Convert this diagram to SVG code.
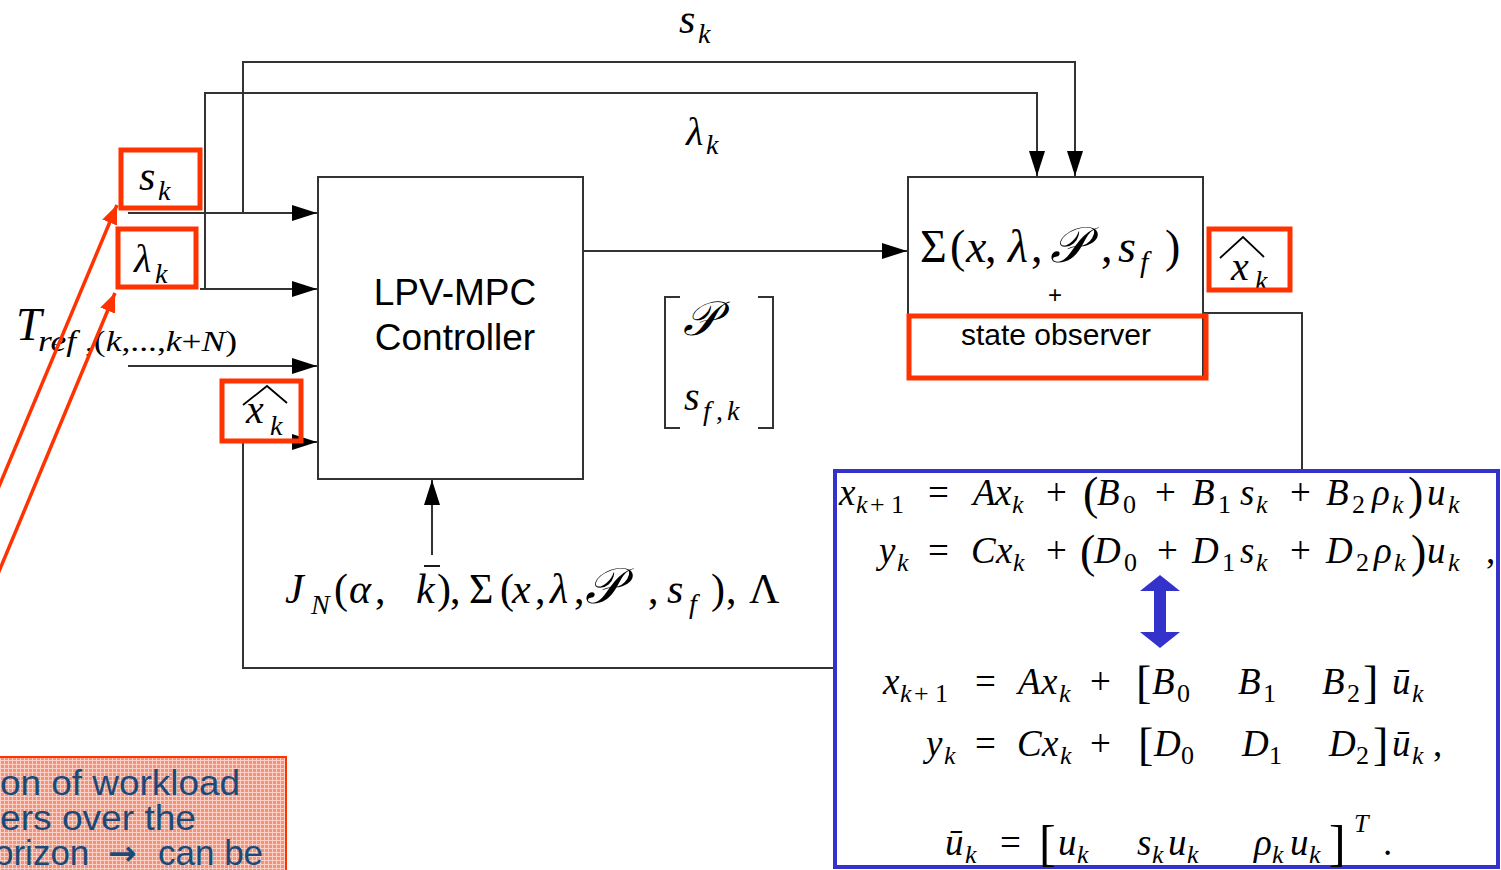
<svg xmlns="http://www.w3.org/2000/svg" width="1501" height="870" viewBox="0 0 1501 870">
<style>
.ln{stroke:#333;stroke-width:2;fill:none}
.box{stroke:#333;stroke-width:2;fill:#fff}
.red{stroke:#ff3300;stroke-width:5;fill:none}
.ra{stroke:#ff3300;stroke-width:3.5;fill:none}
.m{font-family:"Liberation Serif","DejaVu Serif",serif;fill:#000}
.i{font-style:italic}
.sans{font-family:"Liberation Sans",Arial,sans-serif;fill:#000}
.scr{font-family:"DejaVu Serif","DejaVu Sans","Noto Sans",serif;font-style:italic}
.eq{font-family:"Liberation Serif","DejaVu Serif",serif;font-size:37px;fill:#000}
.sb{font-size:26px}
.big{font-size:46px}
.note{font-family:"Liberation Sans",Arial,sans-serif;font-size:35px;fill:#1b4a78}
</style>
<defs>
<marker id="ah" markerUnits="userSpaceOnUse" markerWidth="26" markerHeight="16" refX="25" refY="8" orient="auto"><path d="M0,0 L25,8 L0,16 z" fill="#000"/></marker>
<marker id="rah" markerUnits="userSpaceOnUse" markerWidth="20" markerHeight="16" refX="19" refY="8" orient="auto"><path d="M0,0 L19,8 L0,16 z" fill="#ff3300"/></marker>
<pattern id="grid" patternUnits="userSpaceOnUse" width="4" height="4"><rect width="4" height="4" fill="#f4917a"/><rect width="4" height="1" fill="#fbd0c4"/><rect width="1" height="4" fill="#fbd0c4"/></pattern>
</defs>
<rect width="1501" height="870" fill="#fff"/>

<g id="connectors">
<polyline class="ln" points="243,213 243,62 1075,62 1075,176" marker-end="url(#ah)"/>
<polyline class="ln" points="205,289 205,93 1037,93 1037,176" marker-end="url(#ah)"/>
<line class="ln" x1="128" y1="213" x2="317" y2="213" marker-end="url(#ah)"/>
<line class="ln" x1="200" y1="289" x2="317" y2="289" marker-end="url(#ah)"/>
<line class="ln" x1="128" y1="366" x2="317" y2="366" marker-end="url(#ah)"/>
<polyline class="ln" points="1203,313 1302,313 1302,668 243,668 243,442 317,442" marker-end="url(#ah)"/>
<line class="ln" x1="583" y1="251" x2="907" y2="251" marker-end="url(#ah)"/>
<line class="ln" x1="432" y1="555" x2="432" y2="480" marker-end="url(#ah)"/>
</g>

<g id="controller">
<rect class="box" x="318" y="177" width="265" height="302"/>
<text class="sans" x="455" y="305" font-size="37" text-anchor="middle">LPV-MPC</text>
<text class="sans" x="455" y="350" font-size="37" text-anchor="middle">Controller</text>
</g>

<g id="plant">
<rect class="box" x="908" y="177" width="295" height="201"/>
<text class="m" y="262" font-size="46"><tspan x="920">Σ</tspan><tspan x="950">(</tspan><tspan class="i" x="966">x</tspan><tspan x="985">,</tspan><tspan class="i" x="1008">λ</tspan><tspan x="1031">,</tspan><tspan class="scr" x="1050" font-size="50">𝒫</tspan><tspan x="1101">,</tspan><tspan class="i" x="1118">s</tspan><tspan x="1165">)</tspan></text>
<text class="m i" x="1140" y="272" font-size="30">f</text>
<text class="sans" x="1055" y="303" font-size="24" text-anchor="middle">+</text>
<text class="sans" x="1056" y="345" font-size="30" text-anchor="middle">state observer</text>
</g>

<g id="matrix">
<polyline class="ln" points="680,297 665,297 665,428 680,428"/>
<polyline class="ln" points="758,297 773,297 773,428 758,428"/>
<text class="m scr" x="683" y="335" font-size="48">𝒫</text>
<text class="m i" x="684" y="410" font-size="40">s</text>
<text class="m" y="420" font-size="28"><tspan class="i" x="703">f</tspan><tspan x="716">,</tspan><tspan class="i" x="727">k</tspan></text>
</g>

<g id="labels">
<text class="m i" x="679" y="33" font-size="42">s</text>
<text class="m i" x="698" y="43" font-size="28">k</text>
<text class="m i" x="686" y="145" font-size="40">λ</text>
<text class="m i" x="706" y="154" font-size="28">k</text>

<text class="m i" x="139" y="190" font-size="42">s</text>
<text class="m i" x="158" y="200" font-size="28">k</text>
<text class="m i" x="134" y="272" font-size="40">λ</text>
<text class="m i" x="155" y="283" font-size="28">k</text>

<text class="m i" x="16" y="340" font-size="46">T</text>
<text class="m" x="38" y="351" font-size="30" textLength="199" lengthAdjust="spacingAndGlyphs"><tspan class="i">ref</tspan> ,(<tspan class="i">k</tspan>,...,<tspan class="i">k</tspan>+<tspan class="i">N</tspan>)</text>

<text class="m i" x="246" y="423" font-size="40">x</text>
<text class="m i" x="270" y="435" font-size="28">k</text>
<polyline points="243,405 267,386 287,403" fill="none" stroke="#000" stroke-width="1.8"/>

<text class="m i" x="1231" y="280" font-size="40">x</text>
<text class="m i" x="1255" y="290" font-size="28">k</text>
<polyline points="1220,258 1243,237 1264,257" fill="none" stroke="#000" stroke-width="1.8"/>

<text class="m" y="603" font-size="42"><tspan class="i" x="285">J</tspan><tspan x="334">(</tspan><tspan class="i" x="349">α</tspan><tspan x="375">,</tspan><tspan class="i" x="416">k</tspan><tspan x="437">)</tspan><tspan x="450">,</tspan><tspan x="469">Σ</tspan><tspan x="500">(</tspan><tspan class="i" x="512">x</tspan><tspan x="535">,</tspan><tspan class="i" x="550">λ</tspan><tspan x="574">,</tspan><tspan class="scr" x="585" font-size="50">𝒫</tspan><tspan x="648">,</tspan><tspan class="i" x="667">s</tspan><tspan x="711">)</tspan><tspan x="726">,</tspan><tspan x="749">Λ</tspan></text>
<text class="m i" x="311" y="614" font-size="28">N</text>
<text class="m i" x="689" y="613" font-size="28">f</text>
<line x1="424" y1="566" x2="440" y2="566" stroke="#000" stroke-width="1.8"/>
</g>

<g id="callouts">
<rect class="red" x="121" y="150" width="79" height="58"/>
<rect class="red" x="118" y="229" width="78" height="58"/>
<rect class="red" x="222" y="381" width="79" height="60"/>
<rect class="red" x="1209" y="229" width="81" height="61"/>
<rect class="red" x="909" y="316" width="297" height="62"/>
<line class="ra" x1="-5" y1="496" x2="117" y2="205" marker-end="url(#rah)"/>
<line class="ra" x1="-5" y1="581" x2="115" y2="293" marker-end="url(#rah)"/>
</g>

<g id="note">
<rect x="-3" y="757" width="289" height="116" fill="url(#grid)" stroke="#ff3300" stroke-width="2"/>
<text class="note" x="0" y="795" textLength="240" lengthAdjust="spacingAndGlyphs">on of workload</text>
<text class="note" x="0" y="830" textLength="196" lengthAdjust="spacingAndGlyphs">ers over the</text>
<text class="note" y="865"><tspan x="-6">orizon</tspan><tspan x="108" font-family="DejaVu Sans,sans-serif" font-weight="bold" font-size="34">→</tspan><tspan x="158">can be</tspan></text>
</g>

<g id="equations">
<rect x="835" y="471" width="663" height="396" fill="#fff" stroke="#3333cc" stroke-width="4"/>
<text class="eq" y="505"><tspan class="i" x="839">x</tspan><tspan x="928">=</tspan><tspan class="i" x="973">A</tspan><tspan class="i" x="995">x</tspan><tspan x="1046">+</tspan><tspan class="big" x="1083" y="509">(</tspan><tspan class="i" x="1097" y="505">B</tspan><tspan x="1155">+</tspan><tspan class="i" x="1192">B</tspan><tspan class="i" x="1240">s</tspan><tspan x="1290">+</tspan><tspan class="i" x="1326">B</tspan><tspan class="i" x="1372">ρ</tspan><tspan class="big" x="1408" y="509">)</tspan><tspan class="i" x="1427" y="505">u</tspan></text>
<text class="eq sb" y="513"><tspan class="i" x="856">k</tspan><tspan x="870">+</tspan><tspan x="891">1</tspan><tspan x="1012" class="i">k</tspan><tspan x="1123">0</tspan><tspan x="1218">1</tspan><tspan class="i" x="1256">k</tspan><tspan x="1352">2</tspan><tspan class="i" x="1392">k</tspan><tspan class="i" x="1448">k</tspan></text>

<text class="eq" y="563"><tspan class="i" x="879">y</tspan><tspan x="928">=</tspan><tspan class="i" x="971">C</tspan><tspan class="i" x="996">x</tspan><tspan x="1046">+</tspan><tspan class="big" x="1080" y="567">(</tspan><tspan class="i" x="1094" y="563">D</tspan><tspan x="1157">+</tspan><tspan class="i" x="1192">D</tspan><tspan class="i" x="1240">s</tspan><tspan x="1290">+</tspan><tspan class="i" x="1326">D</tspan><tspan class="i" x="1374">ρ</tspan><tspan class="big" x="1411" y="567">)</tspan><tspan class="i" x="1427" y="563">u</tspan><tspan x="1486">,</tspan></text>
<text class="eq sb" y="571"><tspan class="i" x="897">k</tspan><tspan class="i" x="1013">k</tspan><tspan x="1124">0</tspan><tspan x="1222">1</tspan><tspan class="i" x="1256">k</tspan><tspan x="1356">2</tspan><tspan class="i" x="1394">k</tspan><tspan class="i" x="1448">k</tspan></text>

<polygon points="1160,575 1180,591 1166,591 1166,632 1180,632 1160,648 1140,632 1154,632 1154,591 1140,591" fill="#3333cc"/>

<text class="eq" y="694"><tspan class="i" x="883">x</tspan><tspan x="975">=</tspan><tspan class="i" x="1018">A</tspan><tspan class="i" x="1041">x</tspan><tspan x="1090">+</tspan><tspan class="big" x="1136" y="698">[</tspan><tspan class="i" x="1152" y="694">B</tspan><tspan class="i" x="1238">B</tspan><tspan class="i" x="1322">B</tspan><tspan class="big" x="1363" y="698">]</tspan><tspan class="i" x="1392" y="694">ū</tspan></text>
<text class="eq sb" y="702"><tspan class="i" x="900">k</tspan><tspan x="914">+</tspan><tspan x="935">1</tspan><tspan class="i" x="1059">k</tspan><tspan x="1177">0</tspan><tspan x="1263">1</tspan><tspan x="1347">2</tspan><tspan class="i" x="1412">k</tspan></text>

<text class="eq" y="756"><tspan class="i" x="926">y</tspan><tspan x="975">=</tspan><tspan class="i" x="1017">C</tspan><tspan class="i" x="1042">x</tspan><tspan x="1090">+</tspan><tspan class="big" x="1138" y="760">[</tspan><tspan class="i" x="1154" y="756">D</tspan><tspan class="i" x="1242">D</tspan><tspan class="i" x="1329">D</tspan><tspan class="big" x="1373" y="760">]</tspan><tspan class="i" x="1392" y="756">ū</tspan><tspan x="1433">,</tspan></text>
<text class="eq sb" y="764"><tspan class="i" x="944">k</tspan><tspan class="i" x="1060">k</tspan><tspan x="1181">0</tspan><tspan x="1269">1</tspan><tspan x="1356">2</tspan><tspan class="i" x="1412">k</tspan></text>

<text class="eq" y="855"><tspan class="i" x="945">ū</tspan><tspan x="1000">=</tspan><tspan x="1039" font-size="50" y="860">[</tspan><tspan class="i" x="1058" y="855">u</tspan><tspan class="i" x="1137">s</tspan><tspan class="i" x="1168">u</tspan><tspan class="i" x="1254">ρ</tspan><tspan class="i" x="1290">u</tspan><tspan x="1329" font-size="50" y="860">]</tspan><tspan x="1383" y="855">.</tspan></text>
<text class="eq sb" y="863"><tspan class="i" x="965">k</tspan><tspan class="i" x="1077">k</tspan><tspan class="i" x="1152">k</tspan><tspan class="i" x="1187">k</tspan><tspan class="i" x="1272">k</tspan><tspan class="i" x="1309">k</tspan></text>
<text class="eq i sb" x="1354" y="832">T</text>
</g>
</svg>
